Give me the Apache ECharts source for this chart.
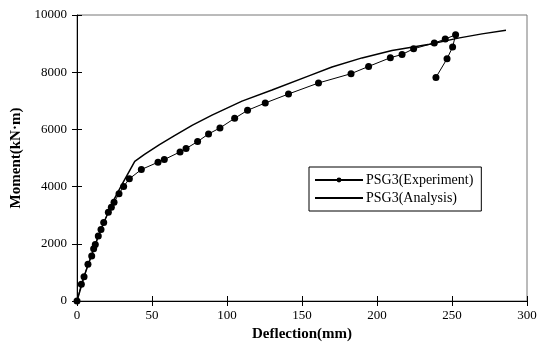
<!DOCTYPE html>
<html><head><meta charset="utf-8">
<script src="https://cdn.jsdelivr.net/npm/echarts@6/dist/echarts.min.js"></script>
<style>html,body{margin:0;padding:0;background:#fff}#c{width:544px;height:347px}</style>
</head><body><div id="c"></div>
<script>
const expX = [0, 2.9, 4.7, 7.3, 9.8, 11.1, 12.2, 14.2, 16, 17.8, 20.9, 22.9, 24.7, 28, 31.1, 34.9, 42.9, 54, 58.2, 68.7, 72.7, 80.4, 87.7, 95.3, 105.1, 113.7, 125.5, 141, 161, 182.7, 194.4, 208.9, 216.7, 224.4, 238.2, 245.5, 252.4, 250.4, 246.7, 239.3];
const expY = [0, 583, 851, 1281, 1571, 1828, 1979, 2269, 2503, 2747, 3107, 3281, 3456, 3748, 4004, 4272, 4597, 4852, 4946, 5213, 5330, 5574, 5842, 6050, 6388, 6667, 6924, 7238, 7623, 7948, 8202, 8506, 8621, 8820, 9019, 9159, 9309, 8880, 8471, 7818];
const anaX = [0, 5, 10, 15, 20, 25, 30, 35, 38.5, 45, 55, 65, 77, 90, 110, 130, 155, 170, 190, 210, 235, 255, 270, 286];
const anaY = [0, 900, 1650, 2380, 3000, 3580, 4080, 4550, 4880, 5130, 5470, 5780, 6150, 6500, 6990, 7380, 7880, 8180, 8500, 8760, 8980, 9200, 9340, 9470];
const seriesNames = ['PSG3(Experiment)', 'PSG3(Analysis)'];
const xName = 'Deflection(mm)';
const yName = 'Moment(kN·m)';

const font = '"Liberation Serif", "Times New Roman", serif';
const zip = (a, b) => a.map((v, i) => [v, b[i]]);
const chart = echarts.init(document.getElementById('c'), null, {renderer: 'canvas'});
const baseX = {min: 0, max: 300, interval: 50};
const baseY = {min: 0, max: 10000, interval: 2000};
const plain = v => String(v);
chart.setOption({
  animation: false,
  backgroundColor: '#fff',
  grid: {left: 77, right: 17, top: 15, bottom: 45, show: true, borderColor: '#777', borderWidth: 1},
  legend: {
    orient: 'vertical', left: 309, top: 167,
    data: [
      {name: seriesNames[0]},
      {name: seriesNames[1], itemStyle: {opacity: 0}}
    ],
    itemWidth: 48, itemHeight: 6, itemGap: 4,
    padding: [6, 8, 6, 5],
    borderColor: '#000', borderWidth: 1,
    textStyle: {fontFamily: font, fontSize: 14, color: '#000', padding: [0, 0, 0, -2]}
  },
  xAxis: [
    Object.assign({type: 'value', position: 'bottom', name: xName, nameLocation: 'middle', nameGap: 26,
      nameTextStyle: {fontFamily: font, fontSize: 15, fontWeight: 'bold', color: '#000'},
      axisLine: {lineStyle: {color: '#000', width: 1}},
      axisTick: {inside: false, length: 5, lineStyle: {color: '#000'}},
      axisLabel: {fontFamily: font, fontSize: 13, color: '#000', margin: 8, formatter: plain},
      splitLine: {show: false}}, baseX),
    Object.assign({type: 'value', position: 'bottom',
      axisLine: {show: true, lineStyle: {color: '#000', opacity: 0}},
      axisTick: {show: true, inside: true, length: 5, lineStyle: {color: '#000', opacity: 1}},
      axisLabel: {show: false}, splitLine: {show: false}}, baseX)
  ],
  yAxis: [
    Object.assign({type: 'value', position: 'left', name: yName, nameLocation: 'middle', nameGap: 48,
      nameTextStyle: {fontFamily: font, fontSize: 15, fontWeight: 'bold', color: '#000'},
      axisLine: {show: true, lineStyle: {color: '#000', width: 1}},
      axisTick: {show: true, inside: false, length: 5, lineStyle: {color: '#000'}},
      axisLabel: {fontFamily: font, fontSize: 13, color: '#000', margin: 10, formatter: plain},
      splitLine: {show: false}}, baseY),
    Object.assign({type: 'value', position: 'left',
      axisLine: {show: true, lineStyle: {color: '#000', opacity: 0}},
      axisTick: {show: true, inside: true, length: 5, lineStyle: {color: '#000', opacity: 1}},
      axisLabel: {show: false}, splitLine: {show: false}}, baseY)
  ],
  series: [
    {name: seriesNames[0], type: 'line', data: zip(expX, expY), symbol: 'circle', symbolSize: 7,
     showAllSymbol: true, itemStyle: {color: '#000'}, lineStyle: {color: '#000', width: 1}, z: 3},
    {name: seriesNames[1], type: 'line', data: zip(anaX, anaY), symbol: 'none', smooth: false,
     itemStyle: {color: '#000'}, lineStyle: {color: '#000', width: 1.5}, z: 2}
  ]
});
</script></body></html>
